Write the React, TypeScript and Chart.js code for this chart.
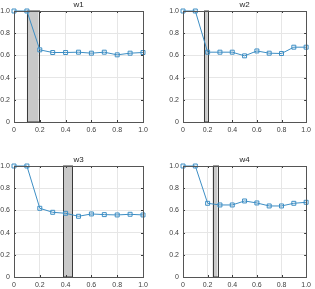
import React, { useEffect, useRef } from "react";
import { Chart, registerables } from "chart.js";

Chart.register(...registerables);

const xs = [0, 0.1, 0.2, 0.3, 0.4, 0.5, 0.6, 0.7, 0.8, 0.9, 1];
const w1 = [1, 1, 0.65, 0.626, 0.626, 0.629, 0.62, 0.629, 0.605, 0.62, 0.626];
const w2 = [1, 1, 0.629, 0.629, 0.629, 0.596, 0.64, 0.62, 0.617, 0.674, 0.674];
const w3 = [1, 1, 0.619, 0.583, 0.574, 0.547, 0.568, 0.562, 0.559, 0.565, 0.559];
const w4 = [1, 1, 0.664, 0.649, 0.649, 0.685, 0.667, 0.64, 0.64, 0.664, 0.673];
const band1 = [0.1, 0.19];
const band2 = [0.17, 0.2];
const band3 = [0.38, 0.45];
const band4 = [0.24, 0.28];
const titles = ["w1", "w2", "w3", "w4"];
const tickValues = [0, 0.2, 0.4, 0.6, 0.8, 1];

const FONT = "'Liberation Sans', Arial, sans-serif";

type PanelProps = {
  title: string;
  values: number[];
  band: number[];
  left: number;
  top: number;
  width: number;
  height: number;
  area: { l: number; t: number; r: number; b: number };
};

function Panel({ title, values, band, left, top, width, height, area }: PanelProps) {
  const ref = useRef<HTMLCanvasElement | null>(null);
  useEffect(() => {
    if (!ref.current) return;
    const bandPlugin = {
      id: "bandAndFrame",
      beforeDatasetsDraw(chart: any) {
        const { ctx, scales } = chart;
        const x0 = scales.x.getPixelForValue(band[0]);
        const x1 = scales.x.getPixelForValue(band[1]);
        const y0 = scales.y.getPixelForValue(0);
        const y1 = scales.y.getPixelForValue(1);
        ctx.save();
        ctx.fillStyle = "#c9c9c9";
        ctx.fillRect(x0, y1, x1 - x0, y0 - y1);
        ctx.strokeStyle = "#3a3a3a";
        ctx.lineWidth = 1;
        ctx.strokeRect(Math.round(x0) + 0.5, y1, Math.round(x1 - x0), y0 - y1);
        ctx.restore();
      },
      afterDraw(chart: any) {
        const { ctx, chartArea, scales } = chart;
        const { left: l, right: r, top: t, bottom: b } = chartArea;
        ctx.save();
        ctx.strokeStyle = "#3a3a3a";
        ctx.lineWidth = 1;
        ctx.beginPath();
        for (const v of tickValues) {
          const px = Math.round(scales.x.getPixelForValue(v)) + 0.5;
          ctx.moveTo(px, b);
          ctx.lineTo(px, b - 2);
          ctx.moveTo(px, t);
          ctx.lineTo(px, t + 2);
          const py = Math.round(scales.y.getPixelForValue(v)) + 0.5;
          ctx.moveTo(l, py);
          ctx.lineTo(l + 2, py);
          ctx.moveTo(r, py);
          ctx.lineTo(r - 2, py);
        }
        ctx.stroke();
        ctx.strokeStyle = "#555555";
        ctx.strokeRect(Math.round(l) + 0.5, Math.round(t) + 0.5, Math.round(r - l), Math.round(b - t));
        ctx.fillStyle = "#262626";
        ctx.font = `8px ${FONT}`;
        ctx.textAlign = "center";
        ctx.textBaseline = "bottom";
        ctx.fillText(title, (l + r) / 2, t - 2);
        ctx.restore();
      },
    };
    const chart = new Chart(ref.current, {
      type: "line",
      data: {
        datasets: [
          {
            data: xs.map((x, i) => ({ x, y: values[i] })),
            borderColor: "#3d8ec4",
            borderWidth: 1,
            pointStyle: "rect",
            pointRadius: 2.8,
            pointBorderWidth: 1,
            pointBorderColor: "#3d8ec4",
            pointBackgroundColor: "rgba(0,0,0,0)",
            tension: 0,
            fill: false,
            clip: false,
          },
        ],
      },
      options: {
        animation: false,
        responsive: false,
        maintainAspectRatio: false,
        events: [],
        layout: {
          padding: { left: 0, top: area.t, right: width - area.r, bottom: 0 },
        },
        plugins: { legend: { display: false }, tooltip: { enabled: false }, title: { display: false } },
        scales: {
          x: {
            type: "linear",
            min: 0,
            max: 1,
            afterBuildTicks(scale: any) {
              scale.ticks = tickValues.map((v) => ({ value: v }));
            },
            afterFit(scale: any) {
              scale.height = height - area.b;
            },
            grid: { color: "#e6e6e6", drawTicks: false, lineWidth: 1 },
            border: { display: false },
            ticks: {
              padding: 4,
              color: "#404040",
              font: { family: FONT, size: 7 },
              maxRotation: 0,
              autoSkip: false,
            },
          },
          y: {
            type: "linear",
            min: 0,
            max: 1,
            afterBuildTicks(scale: any) {
              scale.ticks = tickValues.map((v) => ({ value: v }));
            },
            afterFit(scale: any) {
              scale.width = area.l;
            },
            grid: { color: "#e6e6e6", drawTicks: false, lineWidth: 1 },
            border: { display: false },
            ticks: {
              padding: 4,
              color: "#404040",
              font: { family: FONT, size: 7 },
              autoSkip: false,
            },
          },
        },
      },
      plugins: [bandPlugin],
    } as any);
    return () => chart.destroy();
  }, []);
  return (
    <div style={{ position: "absolute", left, top, width, height }}>
      <canvas ref={ref} width={width} height={height} style={{ width, height, display: "block" }} />
    </div>
  );
}

export default function App() {
  return (
    <div style={{ position: "fixed", left: 0, top: 0, width: 315, height: 289, background: "#ffffff" }}>
      <Panel title={titles[0]} values={w1} band={band1} left={0} top={0} width={158} height={145}
        area={{ l: 14, t: 11, r: 143, b: 122 }} />
      <Panel title={titles[1]} values={w2} band={band2} left={158} top={0} width={157} height={145}
        area={{ l: 25, t: 11, r: 154, b: 122 }} />
      <Panel title={titles[2]} values={w3} band={band3} left={0} top={145} width={158} height={144}
        area={{ l: 14, t: 21, r: 143, b: 132 }} />
      <Panel title={titles[3]} values={w4} band={band4} left={158} top={145} width={157} height={144}
        area={{ l: 25, t: 21, r: 154, b: 132 }} />
    </div>
  );
}
